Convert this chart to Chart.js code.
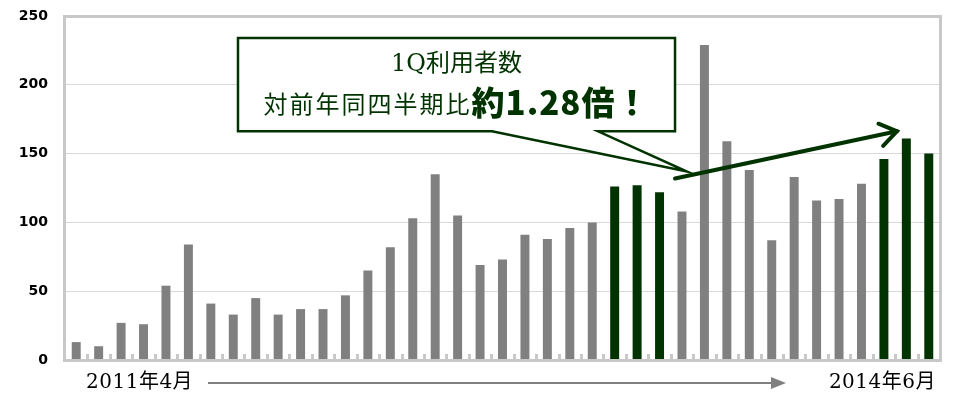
<!DOCTYPE html>
<html>
<head>
<meta charset="utf-8">
<script src="https://cdn.jsdelivr.net/npm/chart.js@4"></script>
<style>
  body { margin: 0; background: #fff; }
  canvas { display: block; }
</style>
</head>
<body>
<canvas id="usersChart" width="953" height="394"></canvas>
<script>
// 月別利用者数 (2011年4月〜2014年6月)
const months = [
  '2011年4月', '2011年5月', '2011年6月', '2011年7月', '2011年8月', '2011年9月',
  '2011年10月', '2011年11月', '2011年12月', '2012年1月', '2012年2月', '2012年3月',
  '2012年4月', '2012年5月', '2012年6月', '2012年7月', '2012年8月', '2012年9月',
  '2012年10月', '2012年11月', '2012年12月', '2013年1月', '2013年2月', '2013年3月',
  '2013年4月', '2013年5月', '2013年6月', '2013年7月', '2013年8月', '2013年9月',
  '2013年10月', '2013年11月', '2013年12月', '2014年1月', '2014年2月', '2014年3月',
  '2014年4月', '2014年5月', '2014年6月'
];
const users = [
  13, 10, 27, 26, 54, 84, 41, 33, 45, 33, 37, 37,
  47, 65, 82, 103, 135, 105, 69, 73, 91, 88, 96, 100,
  126, 127, 122, 108, 229, 159, 138, 87, 133, 116, 117, 128,
  146, 161, 150
];
// 比較対象の四半期 (1Q) は緑で表示
const firstQuarter = ['2013年4月', '2013年5月', '2013年6月', '2014年4月', '2014年5月', '2014年6月'];
const yTicks = [0, 50, 100, 150, 200, 250];
const calloutLine1 = '1Q利用者数';
const calloutLine2 = '対前年同四半期比';
const calloutEmph = '約1.28倍！';

const GRAY = '#808080';
const GREEN = '#003300';
const FRAME = '#c8c8c8';

const barColors = months.map(m => firstQuarter.includes(m) ? GREEN : GRAY);

// 枠線・目盛り・吹き出し・矢印
const decorations = {
  id: 'decorations',
  afterDatasetsDraw(chart) {
    const { ctx, chartArea: area, scales } = chart;
    const x = scales.x, y = scales.y;
    ctx.save();

    // plot frame
    ctx.strokeStyle = FRAME;
    ctx.lineWidth = 3;
    ctx.strokeRect(area.left - 0.5, area.top + 0.5, area.right - area.left + 1, area.bottom - area.top);

    // small ticks between months
    ctx.fillStyle = FRAME;
    for (let i = 0; i < months.length - 1; i++) {
      const bx = (x.getPixelForValue(i) + x.getPixelForValue(i + 1)) / 2;
      ctx.fillRect(Math.round(bx) - 1, area.bottom - 6, 3, 6);
    }

    // callout box with tail (data units)
    const L = x.getPixelForValue(7.21), R = x.getPixelForValue(26.69);
    const T = y.getPixelForValue(234), B = y.getPixelForValue(166.2);
    const tailL = x.getPixelForValue(18.53), tailR = x.getPixelForValue(23.26);
    const tipX = x.getPixelForValue(27.22), tipY = y.getPixelForValue(137);
    ctx.beginPath();
    ctx.moveTo(L, T);
    ctx.lineTo(R, T);
    ctx.lineTo(R, B);
    ctx.lineTo(tailR, B);
    ctx.lineTo(tipX, tipY);
    ctx.lineTo(tailL, B);
    ctx.lineTo(L, B);
    ctx.closePath();
    ctx.fillStyle = '#fff';
    ctx.fill();
    ctx.strokeStyle = GREEN;
    ctx.lineWidth = 2.5;
    ctx.lineJoin = 'miter';
    ctx.stroke();

    // callout text
    const cx = (L + R) / 2;
    ctx.fillStyle = GREEN;
    ctx.textBaseline = 'middle';
    ctx.textAlign = 'center';
    ctx.font = '24px "DejaVu Serif", "Noto Sans CJK JP", serif';
    ctx.fillText(calloutLine1, cx, T + 27);

    ctx.textAlign = 'left';
    const f1 = '24px "Noto Sans CJK JP", sans-serif';
    const f2 = '900 33px "Noto Sans CJK JP", sans-serif';
    ctx.font = f1;
    ctx.letterSpacing = '2px';
    const w1 = ctx.measureText(calloutLine2).width;
    ctx.font = f2;
    ctx.letterSpacing = '1px';
    const w2 = ctx.measureText(calloutEmph).width;
    let tx = cx - (w1 + w2) / 2;
    ctx.font = f1;
    ctx.letterSpacing = '2px';
    ctx.fillText(calloutLine2, tx, T + 66);
    ctx.font = f2;
    ctx.letterSpacing = '1px';
    ctx.fillText(calloutEmph, tx + w1, T + 64);
    ctx.letterSpacing = '0px';

    // growth arrow
    const ax0 = x.getPixelForValue(26.69), ay0 = y.getPixelForValue(131.9);
    const ax1 = x.getPixelForValue(36.58), ay1 = y.getPixelForValue(166.2);
    const ang = Math.atan2(ay1 - ay0, ax1 - ax0);
    ctx.strokeStyle = GREEN;
    ctx.lineWidth = 4;
    ctx.lineCap = 'round';
    ctx.beginPath();
    ctx.moveTo(ax0, ay0);
    ctx.lineTo(ax1, ay1);
    ctx.stroke();
    ctx.beginPath();
    ctx.moveTo(ax1 + 20 * Math.cos(ang + Math.PI - 0.6), ay1 + 20 * Math.sin(ang + Math.PI - 0.6));
    ctx.lineTo(ax1, ay1);
    ctx.lineTo(ax1 + 20 * Math.cos(ang + Math.PI + 0.6), ay1 + 20 * Math.sin(ang + Math.PI + 0.6));
    ctx.stroke();

    // period labels under the axis
    const ly = area.bottom + 23;
    ctx.fillStyle = '#000';
    ctx.font = '20px "DejaVu Serif", "Noto Sans CJK JP", serif';
    ctx.letterSpacing = '0.5px';
    ctx.textAlign = 'left';
    ctx.fillText(months[0], area.left + 21, ly);
    ctx.textAlign = 'right';
    ctx.fillText(months[months.length - 1], area.right - 4, ly);
    ctx.letterSpacing = '0px';

    ctx.strokeStyle = GRAY;
    ctx.fillStyle = GRAY;
    ctx.lineWidth = 2;
    ctx.lineCap = 'butt';
    ctx.beginPath();
    ctx.moveTo(area.left + 143, ly);
    ctx.lineTo(area.left + 708, ly);
    ctx.stroke();
    ctx.beginPath();
    ctx.moveTo(area.left + 706, ly - 6);
    ctx.lineTo(area.left + 721, ly);
    ctx.lineTo(area.left + 706, ly + 6);
    ctx.closePath();
    ctx.fill();

    ctx.restore();
  }
};

new Chart(document.getElementById('usersChart'), {
  type: 'bar',
  data: {
    labels: months,
    datasets: [{
      data: users,
      backgroundColor: barColors,
      borderWidth: 0,
      barPercentage: 0.4,
      categoryPercentage: 1.0
    }]
  },
  options: {
    responsive: false,
    devicePixelRatio: 1,
    animation: false,
    layout: { padding: { top: 16, right: 13, left: 0, bottom: 0 } },
    plugins: { legend: { display: false }, tooltip: { enabled: false } },
    scales: {
      x: {
        grid: { display: false },
        border: { display: false },
        ticks: { display: false },
        afterFit: s => { s.height = 34; s.paddingLeft = 0; s.paddingRight = 0; }
      },
      y: {
        min: 0,
        max: 250,
        afterBuildTicks: s => { s.ticks = yTicks.map(v => ({ value: v })); },
        grid: { color: '#d9d9d9', lineWidth: 1, drawTicks: false },
        border: { display: false },
        ticks: {
          color: '#000',
          padding: 17,
          font: { family: '"DejaVu Sans", sans-serif', size: 14, weight: 'bold' }
        },
        afterFit: s => { s.width = 65; s.paddingTop = 0; s.paddingBottom = 0; }
      }
    }
  },
  plugins: [decorations]
});
</script>
</body>
</html>
